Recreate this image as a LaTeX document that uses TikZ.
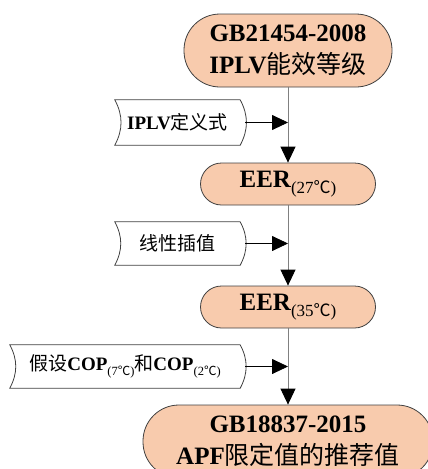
\documentclass[tikz,border=0pt]{standalone}
\usepackage{fontspec}
\setmainfont{Liberation Serif}
\newfontfamily\cjk{Noto Sans CJK SC}
\usetikzlibrary{arrows.meta,positioning}

\definecolor{peach}{HTML}{F8CBAD}
\definecolor{edge}{HTML}{404040}

\newcommand{\sbig}[1]{\raisebox{-6pt}{\fontsize{17}{17}\selectfont\mdseries(#1{\cjk ℃})}}
\newcommand{\ssmall}[1]{\raisebox{-5pt}{\fontsize{12.5}{12.5}\selectfont\mdseries(#1{\cjk ℃})}}

\tikzset{
  stadium/.style={draw=edge, fill=peach, line width=0.8pt, rounded corners=#1,
    inner sep=0pt, align=center, font=\fontsize{25}{32}\selectfont\bfseries},
  datain/.style={inner sep=0pt, font=\fontsize{19}{22}\selectfont},
  datashape/.style={draw=edge, line width=0.8pt},
  mainline/.style={draw=gray, line width=1pt, -{Triangle[length=16pt,width=15pt,color=black]}},
  feed/.style={draw=black, line width=0.8pt, -{Triangle[length=16pt,width=15pt,color=black]}}
}

\begin{document}
\begin{tikzpicture}[x=1pt,y=-1pt]
  \useasboundingbox (0,0) rectangle (428,469);
  \clip (0,0) rectangle (428,469);

  % main chain
  \node[stadium=36pt, minimum width=208pt, minimum height=73pt] (iplvstd) at (288,50.5)
    {GB21454-2008\\IPLV{\cjk\mdseries 能效等级}};
  \node[stadium=21pt, minimum width=175pt, minimum height=42pt] (eer27) at (288,184)
    {EER\sbig{27}};
  \node[stadium=21pt, minimum width=175pt, minimum height=42pt] (eer35) at (288,307)
    {EER\sbig{35}};
  \node[stadium=36pt, minimum width=290pt, minimum height=73pt] (apf) at (288,441.5)
    {GB18837-2015\\APF{\cjk\mdseries 限定值的推荐值}};

  % side inputs
  \node[datain, minimum width=125pt, minimum height=45pt] (iplvdef) at (177.5,122.5)
    {\textbf{IPLV}{\cjk 定义式}};
  \node[datain, minimum width=125pt, minimum height=43pt] (interp) at (177.5,243.5)
    {{\cjk 线性插值}};
  \node[datain, minimum width=230pt, minimum height=43pt] (copin) at (125,366.5)
    {{\cjk 假设}\textbf{COP}\ssmall{7}{\cjk 和}\textbf{COP}\ssmall{2}};

  \foreach \n in {iplvdef,interp,copin}
    \draw[datashape] (\n.north west) -- (\n.north east) to[bend left=28] (\n.south east)
      -- (\n.south west) to[bend right=28] (\n.north west) -- cycle;

  \draw[mainline] (iplvstd) -- (eer27);
  \draw[mainline] (eer27) -- (eer35);
  \draw[mainline] (eer35) -- (apf);

  \draw[feed] ([xshift=5pt]iplvdef.east) -- (iplvdef.east -| eer27.center);
  \draw[feed] ([xshift=5pt]interp.east) -- (interp.east -| eer27.center);
  \draw[feed] ([xshift=5pt]copin.east) -- (copin.east -| eer27.center);
\end{tikzpicture}
\end{document}
